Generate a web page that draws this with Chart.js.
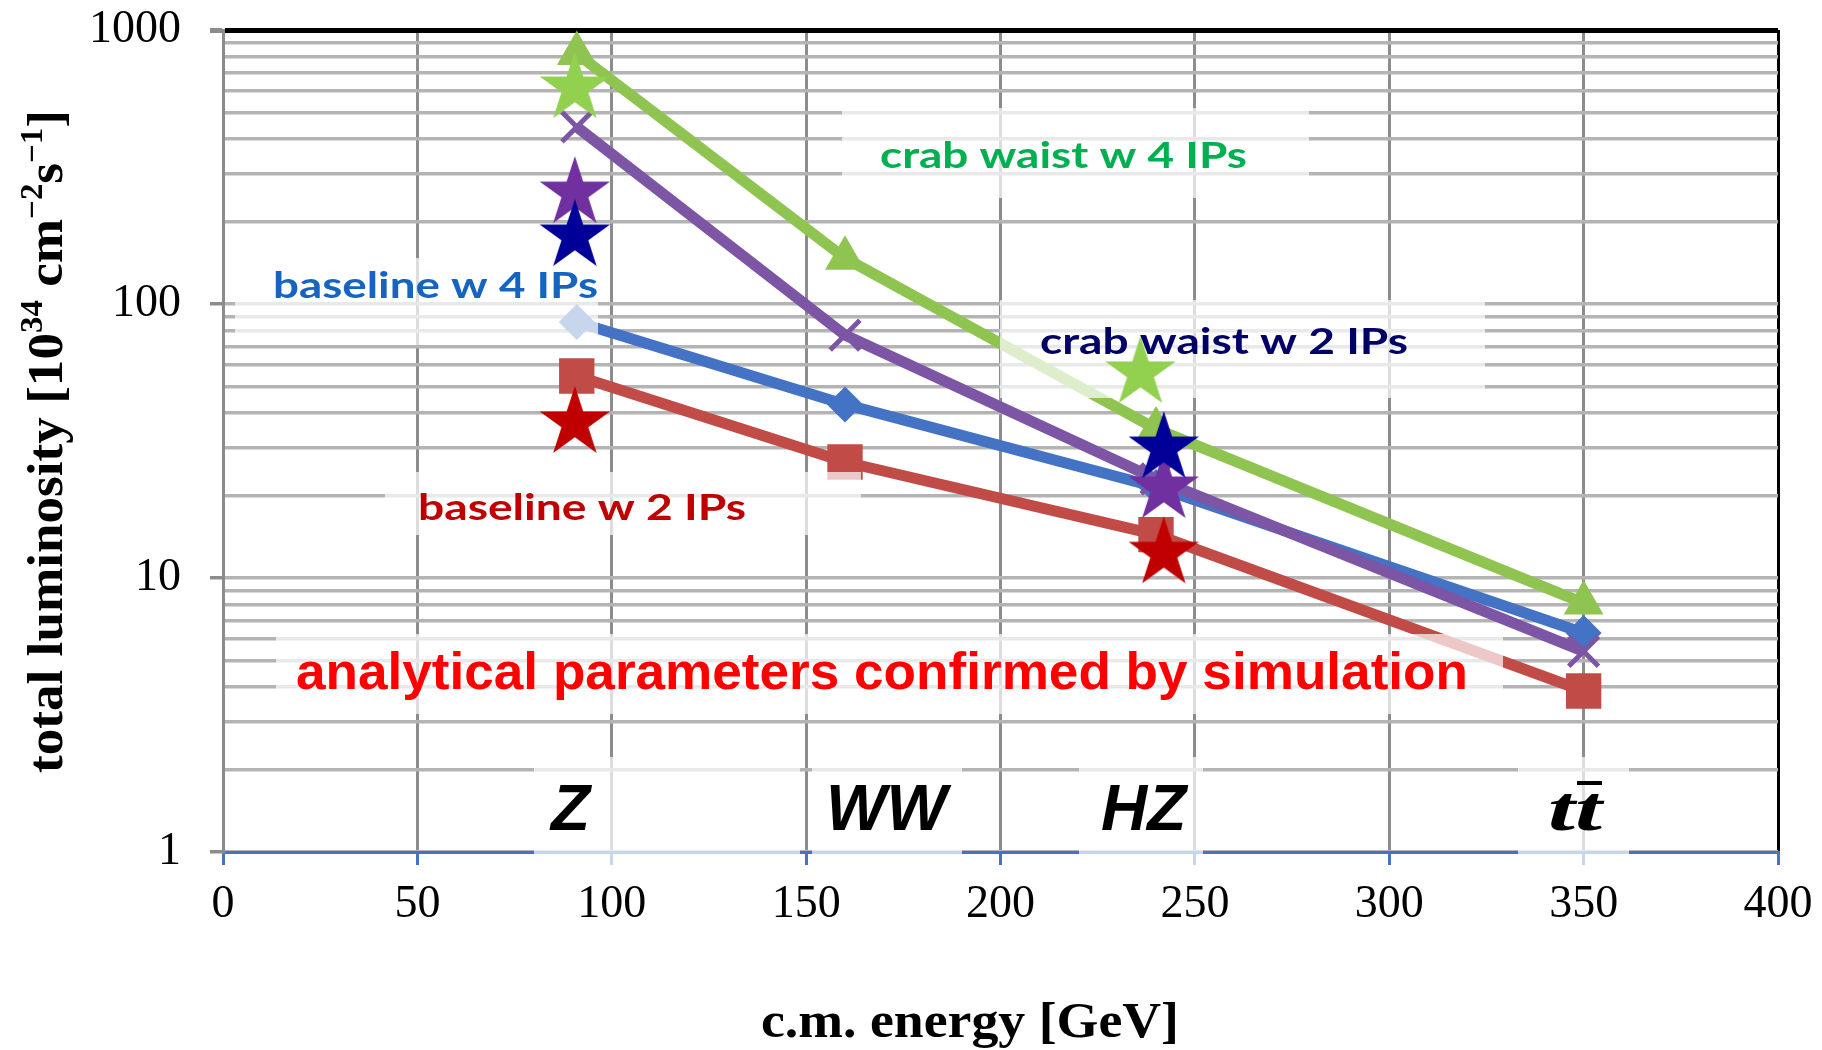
<!DOCTYPE html>
<html>
<head>
<meta charset="utf-8">
<script src="https://cdn.jsdelivr.net/npm/chart.js@4.4.1/dist/chart.umd.min.js"></script>
<style>
  body { margin: 0; background: #fff; }
  #wrap { width: 1822px; height: 1050px; }
</style>
</head>
<body>
<div id="wrap"><canvas id="lumiChart" width="1822" height="1050"></canvas></div>
<script>
// c.m. energies of the working points [GeV]
const energies = [91, 160, 240, 350];

// luminosity curves [1e34 cm^-2 s^-1]
const crabWaist4IPs = [820, 147, 35, 8.1];
const crabWaist2IPs = [443, 77, 23, 5.4];
const baseline4IPs = [86, 43, 21.5, 6.3];
const baseline2IPs = [54.6, 26.5, 14.4, 3.87];

// simulation points (stars)
const greenStarE = [90.5, 236];
const greenStarL = [614, 56];
const navyStarE = [90.5, 242];
const navyStarL = [177, 29.8];
const purpleStarE = [90.5, 242];
const purpleStarL = [254, 21.3];
const redStarE = [90.5, 242];
const redStarL = [36.8, 12.3];

const xTicks = [0, 50, 100, 150, 200, 250, 300, 350, 400];
const yMajor = [1, 10, 100, 1000];

const toPoints = (xs, ys) => xs.map((x, i) => ({ x: x, y: ys[i] }));

const starImage = (color, r) => {
    const c = document.createElement('canvas');
    const size = Math.ceil(r * 2) + 2;
    c.width = size;
    c.height = size;
    const g = c.getContext('2d');
    g.fillStyle = color;
    g.beginPath();
    for (let i = 0; i < 10; i++) {
        const rad = i % 2 === 0 ? r : r * 0.382;
        const a = -Math.PI / 2 + i * Math.PI / 5;
        g.lineTo(size / 2 + rad * Math.cos(a), size / 2 + rad * Math.sin(a));
    }
    g.closePath();
    g.fill();
    return c;
};

const starDataset = (xs, ys, color) => ({
    data: toPoints(xs, ys),
    showLine: false,
    pointStyle: starImage(color, 37),
    pointRadius: 37,
    clip: false
});

const lineDataset = (ys, color, style, radius, borderW) => ({
    data: toPoints(energies, ys),
    borderColor: color,
    backgroundColor: color,
    borderWidth: 11,
    pointStyle: style,
    pointRadius: radius,
    pointBackgroundColor: color,
    pointBorderColor: color,
    pointBorderWidth: borderW,
    tension: 0,
    clip: false
});

// semi-transparent label boxes (drawn over the curves, under the stars)
const boxes = [
    [842, 108, 467, 90],
    [235, 258, 363, 87],
    [1000, 300, 485, 98],
    [385, 472, 476, 63],
    [276, 634, 1227, 80],
    [534, 757, 266, 109],
    [812, 757, 150, 109],
    [1079, 757, 124, 109],
    [1518, 757, 111, 109]
];

const fitText = (ctx, text, x, y, width) => {
    const w = ctx.measureText(text).width;
    ctx.save();
    ctx.translate(x, y);
    ctx.scale(width / w, 1);
    ctx.fillText(text, 0, 0);
    ctx.restore();
};

const overlays = {
    id: 'overlays',
    afterDatasetDraw(chart, args) {
        if (args.index !== 4) return;
        const ctx = chart.ctx;
        ctx.save();
        ctx.fillStyle = 'rgba(255,255,255,0.7)';
        boxes.forEach(b => ctx.fillRect(b[0], b[1], b[2], b[3]));
        ctx.restore();
    },
    afterDraw(chart) {
        const ctx = chart.ctx;
        ctx.save();
        ctx.textAlign = 'left';
        ctx.textBaseline = 'alphabetic';

        // curve labels
        ctx.font = 'bold 37px Lato';
        ctx.fillStyle = '#00b050';
        fitText(ctx, 'crab waist w 4 IPs', 880, 168, 367);
        ctx.fillStyle = '#1565c0';
        fitText(ctx, 'baseline w 4 IPs', 273, 298, 325);
        ctx.fillStyle = '#000066';
        fitText(ctx, 'crab waist w 2 IPs', 1040, 354, 368);
        ctx.fillStyle = '#c00000';
        fitText(ctx, 'baseline w 2 IPs', 418, 520, 328);

        ctx.font = 'bold 52px "Liberation Sans"';
        ctx.fillStyle = '#ff0000';
        fitText(ctx, 'analytical parameters confirmed by simulation', 296, 689, 1172);

        // working points
        ctx.fillStyle = '#000';
        ctx.font = 'italic bold 64px "Liberation Sans"';
        ctx.fillText('Z', 551, 830);
        ctx.fillText('WW', 826, 830);
        ctx.fillText('HZ', 1101, 830);
        ctx.font = 'italic bold 64px "Liberation Serif"';
        fitText(ctx, 'tt', 1548, 830, 54);
        ctx.fillRect(1577, 781, 25, 4);

        // x axis title
        ctx.font = 'bold 50px "Liberation Serif"';
        fitText(ctx, 'c.m. energy [GeV]', 761, 1037, 418);

        // y axis title with superscripts
        const parts = [
            ['total luminosity [10', false],
            ['34', true],
            [' cm', false],
            ['\u22122', true],
            ['s', false],
            ['\u22121', true],
            [']', false]
        ];
        const baseFont = 'bold 50px "Liberation Serif"';
        const supFont = 'bold 31px "Liberation Serif"';
        let total = 0;
        parts.forEach(p => {
            ctx.font = p[1] ? supFont : baseFont;
            total += ctx.measureText(p[0]).width;
        });
        const targetLen = 663;
        ctx.translate(62, 773);
        ctx.rotate(-Math.PI / 2);
        ctx.scale(targetLen / total, 1);
        let pos = 0;
        parts.forEach(p => {
            ctx.font = p[1] ? supFont : baseFont;
            ctx.fillText(p[0], pos, p[1] ? -20 : 0);
            pos += ctx.measureText(p[0]).width;
        });
        ctx.restore();
    }
};

new Chart(document.getElementById('lumiChart'), {
    type: 'line',
    data: {
        datasets: [
            starDataset(greenStarE, greenStarL, '#92d050'),
            starDataset(navyStarE, navyStarL, '#000099'),
            starDataset(purpleStarE, purpleStarL, '#7030a0'),
            starDataset(redStarE, redStarL, '#c00000'),
            lineDataset(crabWaist4IPs, '#8fc451', 'triangle', 23, 0),
            lineDataset(crabWaist2IPs, '#7d55a5', 'crossRot', 21, 5),
            lineDataset(baseline4IPs, '#4472c4', 'rectRot', 18, 0),
            lineDataset(baseline2IPs, '#c04b47', 'rect', 25, 0)
        ]
    },
    options: {
        responsive: false,
        animation: false,
        devicePixelRatio: 1,
        layout: {
            autoPadding: false,
            padding: { top: 30, right: 44, left: 0, bottom: 0 }
        },
        plugins: {
            legend: { display: false },
            tooltip: { enabled: false },
            title: { display: false }
        },
        scales: {
            x: {
                type: 'linear',
                min: 0,
                max: 400,
                afterFit: scale => {
                    scale.height = 198;
                    scale.paddingLeft = 0;
                    scale.paddingRight = 0;
                },
                afterBuildTicks: scale => {
                    scale.ticks = xTicks.map(v => ({ value: v }));
                },
                ticks: {
                    autoSkip: false,
                    maxRotation: 0,
                    padding: 12,
                    color: '#000',
                    font: { family: 'Liberation Serif', size: 46 }
                },
                grid: {
                    color: ctx => ctx.tick && ctx.tick.value === 400 ? '#000' : '#8c8c8c',
                    lineWidth: 3,
                    tickLength: 13,
                    tickColor: '#4472c4',
                    tickWidth: 3
                },
                border: { color: '#4472c4', width: 3 }
            },
            y: {
                type: 'logarithmic',
                min: 1,
                max: 1000,
                afterFit: scale => {
                    scale.width = 223;
                    scale.paddingTop = 0;
                    scale.paddingBottom = 0;
                },
                afterBuildTicks: scale => {
                    const vals = [];
                    [1, 10, 100].forEach(d => {
                        for (let k = 1; k < 10; k++) vals.push(d * k);
                    });
                    vals.push(1000);
                    scale.ticks = vals.map(v => ({ value: v }));
                },
                ticks: {
                    autoSkip: false,
                    padding: 29,
                    color: '#000',
                    font: { family: 'Liberation Serif', size: 46 },
                    callback: v => yMajor.includes(v) ? String(v) : ''
                },
                grid: {
                    color: ctx => ctx.tick && ctx.tick.value === 1000 ? '#000' : '#b4b4b4',
                    lineWidth: ctx => ctx.tick && ctx.tick.value === 1000 ? 5 : 3.5,
                    tickLength: 13,
                    tickColor: ctx => ctx.tick && yMajor.includes(ctx.tick.value) ? '#8c8c8c' : 'rgba(0,0,0,0)'
                },
                border: { color: '#8c8c8c', width: 3 }
            }
        }
    },
    plugins: [overlays]
});
</script>
</body>
</html>
